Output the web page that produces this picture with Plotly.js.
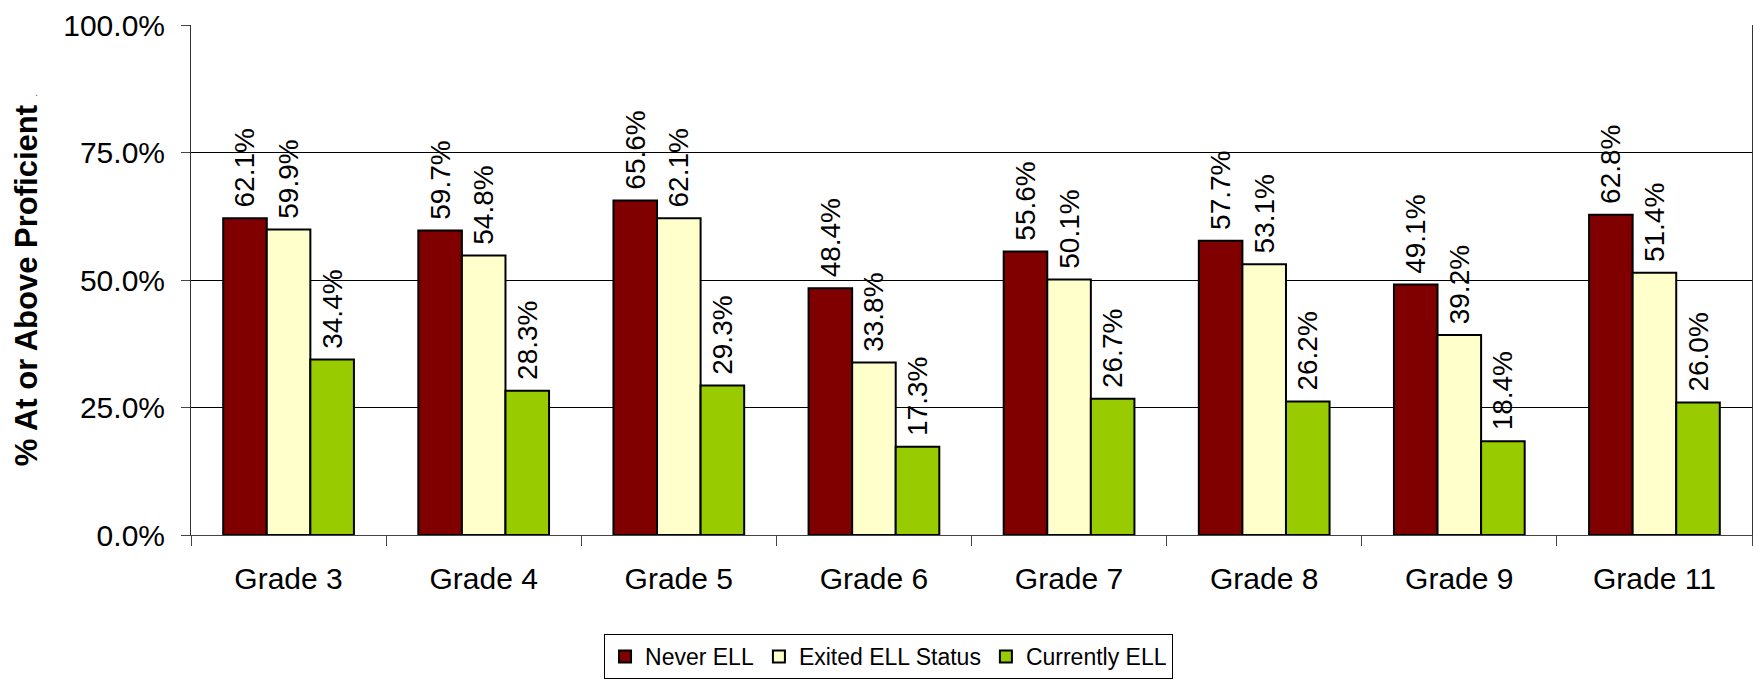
<!DOCTYPE html>
<html>
<head>
<meta charset="utf-8">
<script src="https://cdn.plot.ly/plotly-3.0.1.min.js"></script>
<style>
  html, body { margin: 0; padding: 0; background: #ffffff; }
  #chart { width: 1753px; height: 687px; }
</style>
</head>
<body>
<div id="chart"></div>
<script>
const categories = ["Grade 3", "Grade 4", "Grade 5", "Grade 6", "Grade 7", "Grade 8", "Grade 9", "Grade 11"];
const neverELL = [62.1, 59.7, 65.6, 48.4, 55.6, 57.7, 49.1, 62.8];
const exitedELL = [59.9, 54.8, 62.1, 33.8, 50.1, 53.1, 39.2, 51.4];
const currentlyELL = [34.4, 28.3, 29.3, 17.3, 26.7, 26.2, 18.4, 26.0];
const seriesNames = ["Never ELL", "Exited ELL Status", "Currently ELL"];
const seriesColors = ["#800000", "#FFFFCC", "#99CC00"];
const yTicks = [0, 25, 50, 75, 100];

const FONT = "'Liberation Sans', Arial, sans-serif";

function makeTrace(name, values, color) {
  return {
    type: "bar",
    name: name,
    x: categories,
    y: values,
    marker: { color: color, line: { color: "#000000", width: 2 } },
    texttemplate: "\u00A0%{y:.1f}%",
    textposition: "outside",
    textangle: -90,
    constraintext: "none",
    cliponaxis: false,
    textfont: { family: FONT, size: 28, color: "#000000" },
    hoverinfo: "skip"
  };
}

const data = [
  makeTrace(seriesNames[0], neverELL, seriesColors[0]),
  makeTrace(seriesNames[1], exitedELL, seriesColors[1]),
  makeTrace(seriesNames[2], currentlyELL, seriesColors[2])
];

const layout = {
  width: 1753,
  height: 687,
  paper_bgcolor: "#ffffff",
  plot_bgcolor: "#ffffff",
  margin: { l: 191, r: 1, t: 25, b: 152, pad: 0 },
  barmode: "group",
  bargap: 0.33,
  bargroupgap: 0,
  showlegend: true,
  font: { family: FONT, size: 30, color: "#000000" },
  xaxis: {
    type: "category",
    showgrid: false,
    showline: true,
    linecolor: "#444444",
    linewidth: 1,
    ticks: "outside",
    tickson: "boundaries",
    ticklen: 10,
    tickcolor: "#444444",
    tickfont: { family: FONT, size: 30, color: "#000000" },
    ticklabelstandoff: 17,
    zeroline: false
  },
  yaxis: {
    range: [0, 100],
    tickvals: yTicks,
    ticktext: yTicks.map(v => v.toFixed(1) + "%"),
    showgrid: true,
    gridcolor: "#000000",
    gridwidth: 1,
    showline: true,
    mirror: true,
    linecolor: "#333333",
    linewidth: 1,
    ticks: "outside",
    ticklen: 9,
    tickcolor: "#444444",
    tickfont: { family: FONT, size: 30, color: "#000000" },
    ticklabelstandoff: 10,
    zeroline: false,
    title: {
      text: "<b>% At or Above Proficient</b> <span style='font-size:9px'>.</span>",
      font: { family: FONT, size: 31, color: "#000000" },
      standoff: 16
    }
  },
  legend: {
    orientation: "h",
    x: 0.2646,
    xanchor: "left",
    y: -0.194,
    yanchor: "top",
    bordercolor: "#000000",
    borderwidth: 1,
    bgcolor: "#ffffff",
    font: { family: FONT, size: 23, color: "#000000" },
    itemsizing: "constant"
  }
};

Plotly.newPlot("chart", data, layout, { displayModeBar: false, staticPlot: true });
</script>
</body>
</html>
